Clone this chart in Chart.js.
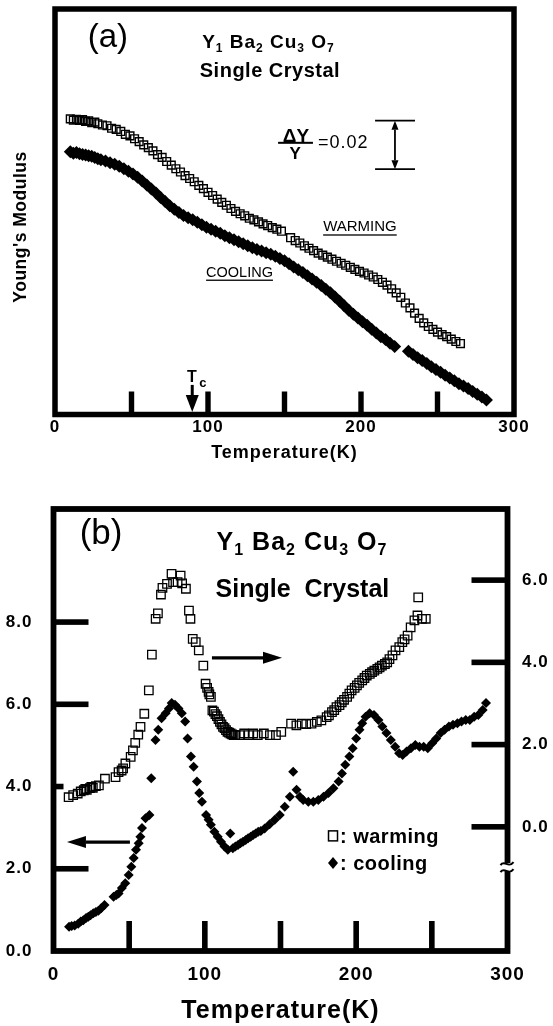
<!DOCTYPE html>
<html>
<head>
<meta charset="utf-8">
<script src="https://cdn.jsdelivr.net/npm/chart.js"></script>
<style>
  html, body { margin: 0; padding: 0; background: #fff; }
  #wrap { position: relative; width: 553px; height: 1026px; overflow: hidden; background: #fff; }
  #wrap canvas { position: absolute; left: 0; }
  #c-a { top: 0; }
  #c-b { top: 470px; }
</style>
</head>
<body>
<div id="wrap">
  <canvas id="c-a" width="553" height="470"></canvas>
  <canvas id="c-b" width="553" height="556"></canvas>
</div>
<script>
const FONT = '"Liberation Sans", Arial, sans-serif';

/* ── shared axis ticks ── */
const X_LABELS = [0, 100, 200, 300];
const X_MARKS  = [50, 100, 150, 200, 250];

/* ── (a) Young's modulus, arbitrary units (frame = 0..100) ── */
const A_WARM_T = [10,12,14,16,18,20,22,24,26,28,31,34,37,40,43,46,49,52,55,58,61,64,67,70,73,76,79,82,85,88,91,94,97,100,103,106,109,112,115,118,121,124,127,130,133,136,139,142,145,148,154,157,160,163,166,169,172,175,178,181,184,187,190,193,196,199,202,205,208,211,214,217,220,223,226,229,232,235,238,241,244,247,250,253,256,259,262,265];
const A_WARM_Y = [72.9,72.6,72.8,72.5,72.7,72.3,72.4,72.0,72.1,71.7,71.4,71.2,70.6,70.3,69.8,69.1,68.7,68.0,67.3,66.5,65.8,65.0,64.1,63.4,62.4,61.5,60.6,59.8,58.9,58.2,57.4,56.5,55.7,54.8,54.0,53.1,52.3,51.6,50.8,50.1,49.5,49.0,48.4,48.0,47.5,47.0,46.6,46.1,45.7,45.2,43.6,42.9,42.3,41.6,41.0,40.4,39.8,39.3,38.8,38.3,37.8,37.3,36.8,36.3,35.8,35.3,34.9,34.4,33.9,33.3,32.6,31.9,31.0,30.0,28.9,27.5,26.3,25.0,23.7,22.6,21.7,21.0,20.3,19.7,19.2,18.6,18.0,17.5];

const A_COOL_T = [10,12,14,16,18,20,22,24,26,28,30,33,36,39,42,45,48,51,54,57,60,63,66,69,72,75,78,81,84,87,90,93,96,99,102,105,108,111,114,117,120,123,126,129,132,135,138,141,144,147,150,153,156,159,162,165,168,171,174,177,180,183,186,189,192,195,198,201,204,207,210,213,216,219,222,231,234,237,240,243,246,249,252,255,258,261,264,267,270,273,276,279,282];
const A_COOL_Y = [64.8,64.4,64.6,64.3,64.1,64.0,63.8,63.7,63.4,63.1,62.8,62.5,62.1,61.7,61.2,60.6,60.0,59.3,58.5,57.6,56.6,55.6,54.6,53.5,52.5,51.5,50.6,49.8,49.1,48.5,48.0,47.4,46.8,46.2,45.7,45.2,44.7,44.1,43.6,43.1,42.6,42.1,41.6,41.1,40.7,40.3,39.9,39.5,39.0,38.5,37.9,37.2,36.4,35.7,35.0,34.2,33.4,32.6,31.8,30.9,30.0,29.0,27.9,26.8,25.7,24.7,23.8,22.9,22.0,21.0,20.1,19.2,18.5,17.6,16.8,15.6,14.8,14.0,13.3,12.6,11.8,11.1,10.4,9.7,9.0,8.3,7.6,7.0,6.4,5.7,5.0,4.3,3.6];

/* ── (b) warming on right axis, cooling on left axis ── */
const B_LEFT_MAX   = 10.75;
const B_RIGHT_MIN  = -3.02;
const B_RIGHT_MAX  = 7.73;
const B_LEFT_LABELS  = [0, 2, 4, 6, 8];
const B_LEFT_MARKS   = [2, 4, 6, 8];
const B_RIGHT_LABELS = [0, 2, 4, 6];

const B_WARM_T = [10,13,16,18,20,21,22,24,25,26,28,30,34,41,43,45,46,47.5,51,52.5,54,56,57.5,60,63,65,67.5,69,71,72,75,78,79,82,84,85,87.5,89.5,90.5,92,94,96,99,100.5,101.5,102.5,103,104,105,106,107,108,109,110,111,112,113,114,115,116,117,118,119,120,123,126,129,132,135,139,143,147,150.5,157,160.5,164,167,170.5,174,177,180.5,182,184,185.5,187,189,190.5,192,194,195.5,197,199,200.5,202,204,205.5,207,209,210.5,212,214,215.5,217,219,220.5,222,224,226,228.5,230.5,232,234,236,238.5,240.5,241,243.5,246];
const B_WARM_R = [0.72,0.77,0.81,0.86,0.89,0.92,0.90,0.94,0.97,0.95,0.99,1.01,1.17,1.21,1.33,1.37,1.42,1.54,1.70,1.86,2.04,2.24,2.43,2.75,3.32,4.19,5.06,5.19,5.65,5.81,5.91,6.15,5.95,5.95,6.11,5.92,5.79,5.26,5.06,4.57,4.49,4.29,3.92,3.48,3.38,3.28,3.22,3.16,2.83,2.80,2.74,2.69,2.62,2.55,2.49,2.43,2.40,2.35,2.31,2.29,2.27,2.25,2.23,2.23,2.23,2.27,2.23,2.27,2.23,2.27,2.23,2.23,2.31,2.51,2.47,2.51,2.50,2.51,2.55,2.59,2.67,2.71,2.79,2.84,2.91,2.96,3.03,3.09,3.16,3.24,3.32,3.38,3.44,3.50,3.56,3.62,3.68,3.72,3.76,3.80,3.84,3.88,3.92,3.96,4.00,4.08,4.17,4.29,4.37,4.49,4.56,4.65,4.85,5.02,5.14,5.58,5.06,5.06];

const B_COOL_T = [10.3,12,14,16.3,18,19.7,21.5,23,24.5,26.3,28,29.7,31.5,33.7,39.7,41.5,43,45.2,47.4,49.7,51.4,53,54.5,56.3,57.4,58.5,60.8,63.4,64.6,67.4,69.2,71.4,74.1,76.3,78.1,80.3,82.6,84.8,87,88.6,90.8,92.6,94.8,96.3,98.1,100.8,102.5,104,106.3,108.5,110.7,113,115.2,116.8,118.5,120.2,121.9,123.5,125.2,127,128.6,130.3,131.9,133.6,135.3,137,139.5,142.8,146.2,149.5,152.8,156.2,158.4,160.6,162.8,165,168.4,171.7,175,178.4,181.7,185,188.4,190.6,192.8,195.5,197.7,200,202.2,204,206.2,208.9,211.8,214.7,217.3,220,222.9,225.8,228.4,230.7,233.3,236.2,239.1,241.8,244.6,247.3,250.2,252.9,255.8,258.4,261.3,264,266.9,269.6,272.4,275.1,278,280.7,283.6,285.8];
const B_COOL_V = [0.59,0.61,0.62,0.66,0.72,0.75,0.80,0.83,0.87,0.92,0.95,0.98,1.04,1.12,1.32,1.36,1.40,1.53,1.65,1.85,2.05,2.26,2.46,2.62,2.78,2.99,3.23,3.31,4.20,5.13,5.38,5.66,5.78,5.90,6.03,5.99,5.90,5.78,5.58,5.17,4.73,4.48,4.12,3.84,3.63,3.31,3.19,3.07,2.90,2.78,2.66,2.54,2.46,2.86,2.50,2.54,2.58,2.62,2.66,2.70,2.74,2.78,2.82,2.86,2.90,2.92,2.98,3.08,3.19,3.31,3.51,3.75,4.36,3.92,3.75,3.67,3.63,3.63,3.67,3.75,3.84,3.96,4.12,4.32,4.53,4.73,4.93,5.17,5.38,5.54,5.70,5.78,5.74,5.62,5.46,5.30,5.13,4.97,4.81,4.77,4.85,4.93,5.01,4.97,4.97,4.93,5.05,5.17,5.30,5.38,5.46,5.50,5.54,5.58,5.62,5.62,5.70,5.74,5.86,6.03];

function pts(xs, ys) { return xs.map((x, i) => ({ x, y: ys[i] })); }

/* ── drawing helpers ── */
function label(ctx, str, x, y, size, o) {
    o = o || {};
    ctx.save();
    ctx.font = (o.bold ? 'bold ' : '') + size + 'px ' + FONT;
    ctx.letterSpacing = (o.ls || 0) + 'px';
    ctx.textAlign = o.align || 'center';
    ctx.textBaseline = 'alphabetic';
    ctx.fillStyle = '#000';
    const base = y + size * 0.36;
    ctx.fillText(str, x, base);
    if (o.underline) {
        const w = ctx.measureText(str).width - (o.ls || 0);
        const x0 = ctx.textAlign === 'center' ? x - w / 2 : x;
        ctx.fillRect(x0, base + 3, w, 1.3);
    }
    ctx.restore();
}

function formula(ctx, parts, x, y, size, subSize, ls) {
    ctx.save();
    ctx.letterSpacing = ls + 'px';
    ctx.fillStyle = '#000';
    ctx.textBaseline = 'alphabetic';
    ctx.textAlign = 'left';
    const f = sub => 'bold ' + (sub ? subSize : size) + 'px ' + FONT;
    let w = 0;
    parts.forEach(p => { ctx.font = f(p[1]); w += ctx.measureText(p[0]).width; });
    let cx = x - w / 2;
    const base = y + size * 0.36;
    parts.forEach(p => {
        ctx.font = f(p[1]);
        ctx.fillText(p[0], cx, p[1] ? base + size * 0.2 : base);
        cx += ctx.measureText(p[0]).width;
    });
    ctx.restore();
}

function hArrow(ctx, x1, x2, y, lw, headL, headW) {
    const d = Math.sign(x2 - x1);
    ctx.save();
    ctx.fillStyle = ctx.strokeStyle = '#000';
    ctx.lineWidth = lw;
    ctx.beginPath(); ctx.moveTo(x1, y); ctx.lineTo(x2 - d * headL, y); ctx.stroke();
    ctx.beginPath();
    ctx.moveTo(x2, y);
    ctx.lineTo(x2 - d * headL, y - headW / 2);
    ctx.lineTo(x2 - d * headL, y + headW / 2);
    ctx.closePath(); ctx.fill();
    ctx.restore();
}

function vArrow(ctx, x, y1, y2, lw, headL, headW) {
    const d = Math.sign(y2 - y1);
    ctx.save();
    ctx.fillStyle = ctx.strokeStyle = '#000';
    ctx.lineWidth = lw;
    ctx.beginPath(); ctx.moveTo(x, y1); ctx.lineTo(x, y2 - d * headL); ctx.stroke();
    ctx.beginPath();
    ctx.moveTo(x, y2);
    ctx.lineTo(x - headW / 2, y2 - d * headL);
    ctx.lineTo(x + headW / 2, y2 - d * headL);
    ctx.closePath(); ctx.fill();
    ctx.restore();
}

function frame(ctx, a, lw) {
    ctx.save();
    ctx.strokeStyle = '#000';
    ctx.lineWidth = lw;
    ctx.lineJoin = 'miter';
    ctx.strokeRect(a.left, a.top, a.right - a.left, a.bottom - a.top);
    ctx.restore();
}

const FORMULA = [['Y', 0], ['1', 1], [' Ba', 0], ['2', 1], [' Cu', 0], ['3', 1], [' O', 0], ['7', 1]];

/* ── (a) decorations ── */
const decorA = {
    id: 'decorA',
    beforeDraw(chart) { chart.ctx.letterSpacing = '1px'; },
    afterDatasetsDraw(chart) {
        const ctx = chart.ctx, a = chart.chartArea;
        const X = v => chart.scales.x.getPixelForValue(v);
        const Y = v => chart.scales.y.getPixelForValue(v);
        ctx.save();
        ctx.letterSpacing = '0px';
        frame(ctx, a, 5.5);
        ctx.fillStyle = '#000';
        X_MARKS.forEach(v => ctx.fillRect(X(v) - 2.7, a.bottom - 23, 5.4, 23));

        label(ctx, '(a)', X(34.6), Y(93.6), 33);
        formula(ctx, FORMULA, X(139.5), Y(92.1), 19, 12, 1);
        label(ctx, 'Single Crystal', X(140.5), Y(85), 20, { bold: true, ls: 0.5 });

        // ΔY/Y = 0.02 scale bar
        label(ctx, 'ΔY', X(157.5), Y(68.9), 19, { bold: true });
        ctx.fillRect(X(145.8), Y(67.0) - 1, X(168.6) - X(145.8), 2);
        label(ctx, 'Y', X(156.9), Y(64.6), 17, { bold: true });
        label(ctx, '=0.02', X(171.9), Y(67.3), 18, { align: 'left', ls: 1 });
        ctx.lineWidth = 1.8;
        ctx.strokeStyle = '#000';
        [72.45, 60.5].forEach(v => {
            ctx.beginPath(); ctx.moveTo(X(209.2), Y(v)); ctx.lineTo(X(235.3), Y(v)); ctx.stroke();
        });
        const ym = (Y(72.45) + Y(60.5)) / 2;
        vArrow(ctx, X(222.2), ym, Y(72.45), 1.8, 9, 7);
        vArrow(ctx, X(222.2), ym, Y(60.5), 1.8, 9, 7);

        label(ctx, 'WARMING', X(199.3), Y(46.5), 15, { underline: true });
        label(ctx, 'COOLING', X(120.6), Y(35.3), 14.5, { underline: true });

        // Tc marker
        vArrow(ctx, X(89.7), Y(7.3), Y(0.6), 3, 17, 13);
        label(ctx, 'T', X(89.4), Y(9.5), 16, { bold: true });
        label(ctx, 'c', X(96.6), Y(7.9), 13, { bold: true });

        // y axis title
        ctx.save();
        ctx.translate(19.5, 227);
        ctx.rotate(-Math.PI / 2);
        label(ctx, "Young's Modulus", 0, 0, 17.5, { bold: true, ls: 0.5 });
        ctx.restore();
        ctx.restore();
    }
};

/* ── (b) decorations ── */
const decorB = {
    id: 'decorB',
    beforeDraw(chart) { chart.ctx.letterSpacing = '1px'; },
    afterDatasetsDraw(chart) {
        const ctx = chart.ctx, a = chart.chartArea;
        const X  = v => chart.scales.x.getPixelForValue(v);
        const Y  = v => chart.scales.y.getPixelForValue(v);
        const YR = v => chart.scales.yR.getPixelForValue(v);
        ctx.save();
        ctx.letterSpacing = '0px';
        frame(ctx, a, 5.8);
        ctx.fillStyle = '#000';
        X_MARKS.forEach(v => ctx.fillRect(X(v) - 2.8, a.bottom - 30, 5.6, 30));
        B_LEFT_MARKS.forEach(v => ctx.fillRect(a.left, Y(v) - 2.8, v === 4 ? 10 : 35, 5.6));
        B_RIGHT_LABELS.forEach(v => ctx.fillRect(a.right - 36, YR(v) - 2.8, 36, 5.6));

        // axis break on the right frame
        const yb = Y(2.04);
        ctx.fillStyle = '#fff';
        ctx.fillRect(a.right - 4, yb - 4, 8, 8);
        ctx.strokeStyle = '#000';
        ctx.lineWidth = 2;
        [-4, 3].forEach(dy => {
            ctx.beginPath();
            ctx.moveTo(a.right - 7, yb + dy + 2);
            ctx.bezierCurveTo(a.right - 3, yb + dy - 4, a.right + 1, yb + dy + 6, a.right + 6, yb + dy - 1);
            ctx.stroke();
        });

        label(ctx, '(b)', X(31.4), Y(10.21), 35);
        formula(ctx, FORMULA, X(164.2), Y(9.97), 25, 16, 1);
        label(ctx, 'Single  Crystal', X(164.5), Y(8.82), 25, { bold: true, ls: 0 });

        hArrow(ctx, X(104.7), X(151), Y(7.13), 3.2, 19, 12);
        hArrow(ctx, X(50.5), X(8.9), Y(2.65), 3.2, 19, 12);

        // legend
        ctx.strokeStyle = '#000';
        ctx.lineWidth = 1.5;
        ctx.strokeRect(X(184.7) - 4.5, Y(2.8) - 5, 9, 10);
        ctx.fillStyle = '#000';
        ctx.beginPath();
        const dx = X(184.7), dy2 = Y(2.14);
        ctx.moveTo(dx, dy2 - 6); ctx.lineTo(dx + 5, dy2); ctx.lineTo(dx, dy2 + 6); ctx.lineTo(dx - 5, dy2);
        ctx.closePath(); ctx.fill();
        label(ctx, ': warming', X(189.3), Y(2.8), 20, { bold: true, align: 'left', ls: 0.5 });
        label(ctx, ': cooling', X(189.3), Y(2.14), 20, { bold: true, align: 'left', ls: 0.5 });
        ctx.restore();
    }
};

const squareStyle  = { pointStyle: 'rect', borderColor: '#000', backgroundColor: 'rgba(0,0,0,0)', showLine: false };
const diamondStyle = { pointStyle: 'rectRot', borderWidth: 0, backgroundColor: '#000', showLine: false };
const tickFont = size => ({ family: FONT, size, weight: 'bold' });
const noGrid = { display: false, drawTicks: false };

/* ── Chart (a) ── */
new Chart(document.getElementById('c-a'), {
    type: 'scatter',
    data: {
        datasets: [
            { ...squareStyle,  label: 'warming', data: pts(A_WARM_T, A_WARM_Y), pointRadius: 5.5, borderWidth: 1.4 },
            { ...diamondStyle, label: 'cooling', data: pts(A_COOL_T, A_COOL_Y), pointRadius: 6.5 }
        ]
    },
    options: {
        responsive: false, animation: false, devicePixelRatio: 1,
        layout: { padding: { top: 9, right: 39, left: 55, bottom: 0 } },
        plugins: { legend: { display: false }, tooltip: { enabled: false } },
        scales: {
            x: {
                type: 'linear', min: 0, max: 300,
                grid: noGrid, border: { display: false },
                afterBuildTicks: s => { s.ticks = X_LABELS.map(v => ({ value: v })); },
                afterFit: s => { s.height = 55.5; },
                ticks: { color: '#000', font: tickFont(17), padding: 3, maxRotation: 0 },
                title: { display: true, text: 'Temperature(K)', color: '#000', font: tickFont(18), padding: { top: 0, bottom: 6 } }
            },
            y: { display: false, min: 0, max: 100 }
        }
    },
    plugins: [decorA]
});

/* ── Chart (b) ── */
new Chart(document.getElementById('c-b'), {
    type: 'scatter',
    data: {
        datasets: [
            { ...squareStyle,  label: 'warming', data: pts(B_WARM_T, B_WARM_R), yAxisID: 'yR', pointRadius: 6, borderWidth: 1.3 },
            { ...diamondStyle, label: 'cooling', data: pts(B_COOL_T, B_COOL_V), yAxisID: 'y', pointRadius: 5 }
        ]
    },
    options: {
        responsive: false, animation: false, devicePixelRatio: 1,
        layout: { padding: { top: 39, right: 0, left: 0, bottom: 0 } },
        plugins: { legend: { display: false }, tooltip: { enabled: false } },
        scales: {
            x: {
                type: 'linear', min: 0, max: 300,
                grid: noGrid, border: { display: false },
                afterBuildTicks: s => { s.ticks = X_LABELS.map(v => ({ value: v })); },
                afterFit: s => { s.height = 75; },
                ticks: { color: '#000', font: tickFont(19), padding: 12.5, maxRotation: 0 },
                title: { display: true, text: 'Temperature(K)', color: '#000', font: tickFont(25), padding: { top: 0, bottom: 0 } }
            },
            y: {
                position: 'left', min: 0, max: B_LEFT_MAX,
                grid: noGrid, border: { display: false },
                afterBuildTicks: s => { s.ticks = B_LEFT_LABELS.map(v => ({ value: v })); },
                afterFit: s => { s.width = 53.5; },
                ticks: { color: '#000', font: tickFont(17), padding: 21, callback: v => v.toFixed(1) }
            },
            yR: {
                position: 'right', min: B_RIGHT_MIN, max: B_RIGHT_MAX,
                grid: noGrid, border: { display: false },
                afterBuildTicks: s => { s.ticks = B_RIGHT_LABELS.map(v => ({ value: v })); },
                afterFit: s => { s.width = 45.5; },
                ticks: { color: '#000', font: tickFont(17), padding: 14.5, callback: v => v.toFixed(1) }
            }
        }
    },
    plugins: [decorB]
});
</script>
</body>
</html>
